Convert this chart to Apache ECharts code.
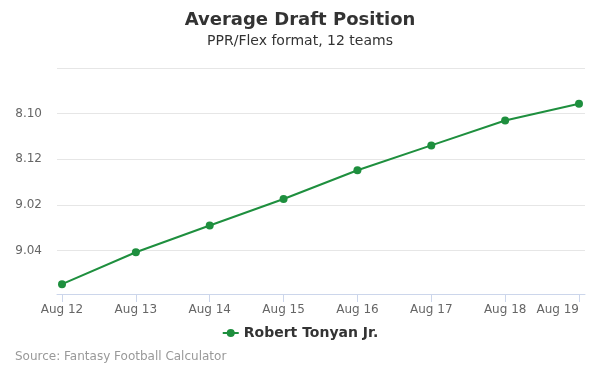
<!DOCTYPE html>
<html><head><meta charset="utf-8">
<script src="https://cdn.jsdelivr.net/npm/echarts@6/dist/echarts.min.js"></script>
<style>html,body{margin:0;padding:0;background:#fff}#c{width:600px;height:375px}</style>
</head><body><div id="c"></div>
<script>
const categories = ["Aug 12","Aug 13","Aug 14","Aug 15","Aug 16","Aug 17","Aug 18","Aug 19"];
const adpValues = [101.47, 100.07, 98.90, 97.74, 96.48, 95.39, 94.30, 93.57];
const tickValues = [94, 96, 98, 100];
const tickLabels = ["8.10", "8.12", "9.02", "9.04"];
const seriesName = "Robert Tonyan Jr.";

const FONT = "DejaVu Sans";
const COLOR = "#1e8f3e";
const yMin = 92, yMax = 101.9;
const gridTop = 68, gridBottom = 81;

const chart = echarts.init(document.getElementById('c'), null, {renderer:'canvas'});
chart.setOption({
  animation: false,
  textStyle: {fontFamily: FONT},
  title: [
    {text: "Average Draft Position", left: 'center', top: 6,
     textStyle: {fontFamily: FONT, fontSize: 18, fontWeight: 'bold', color: '#333'}},
    {text: "PPR/Flex format, 12 teams", left: 'center', top: 29,
     textStyle: {fontFamily: FONT, fontSize: 14, fontWeight: 'normal', color: '#333'}},
    {text: "Source: Fantasy Football Calculator", left: 10, top: 346,
     textStyle: {fontFamily: FONT, fontSize: 12, fontWeight: 'normal', color: '#999'}}
  ],
  legend: {
    data: [seriesName], bottom: 30, left: 'center',
    itemWidth: 16, itemHeight: 10, itemGap: 5,
    textStyle: {fontFamily: FONT, fontSize: 14, fontWeight: 'bold', color: '#333'}
  },
  grid: [
    {left: 57, right: 15, top: gridTop, bottom: gridBottom},
    {left: 62, right: 21, top: gridTop, bottom: gridBottom}
  ],
  xAxis: [
    {type: 'value', gridIndex: 0, min: 0, max: 1, show: true,
     axisLine: {show: true, lineStyle: {color: '#ccd6eb'}},
     axisTick: {show: false}, axisLabel: {show: false}, splitLine: {show: false}},
    {type: 'category', gridIndex: 1, data: categories, boundaryGap: false,
     axisLine: {show: false},
     axisTick: {show: true, length: 8, lineStyle: {color: '#ccd6eb'}},
     axisLabel: {fontFamily: FONT, fontSize: 12, color: '#666', margin: 10, alignMaxLabel: 'right'},
     splitLine: {show: false}}
  ],
  yAxis: [
    {type: 'value', gridIndex: 0, inverse: true, min: yMin, max: yMax, interval: 2,
     axisLine: {show: false}, axisTick: {show: false},
     axisLabel: {fontFamily: FONT, fontSize: 12, color: '#666', margin: 15,
       formatter: v => { const i = tickValues.indexOf(Math.round(v)); return i >= 0 ? tickLabels[i] : ''; }},
     splitLine: {show: true, lineStyle: {color: '#e6e6e6', width: 1}}},
    {type: 'value', gridIndex: 1, inverse: true, min: yMin, max: yMax, interval: 2, show: false,
     splitLine: {show: false}}
  ],
  series: [{
    name: seriesName, type: 'line', xAxisIndex: 1, yAxisIndex: 1,
    data: adpValues, symbol: 'circle', symbolSize: 8,
    itemStyle: {color: COLOR}, lineStyle: {color: COLOR, width: 2}
  }]
});
</script></body></html>
